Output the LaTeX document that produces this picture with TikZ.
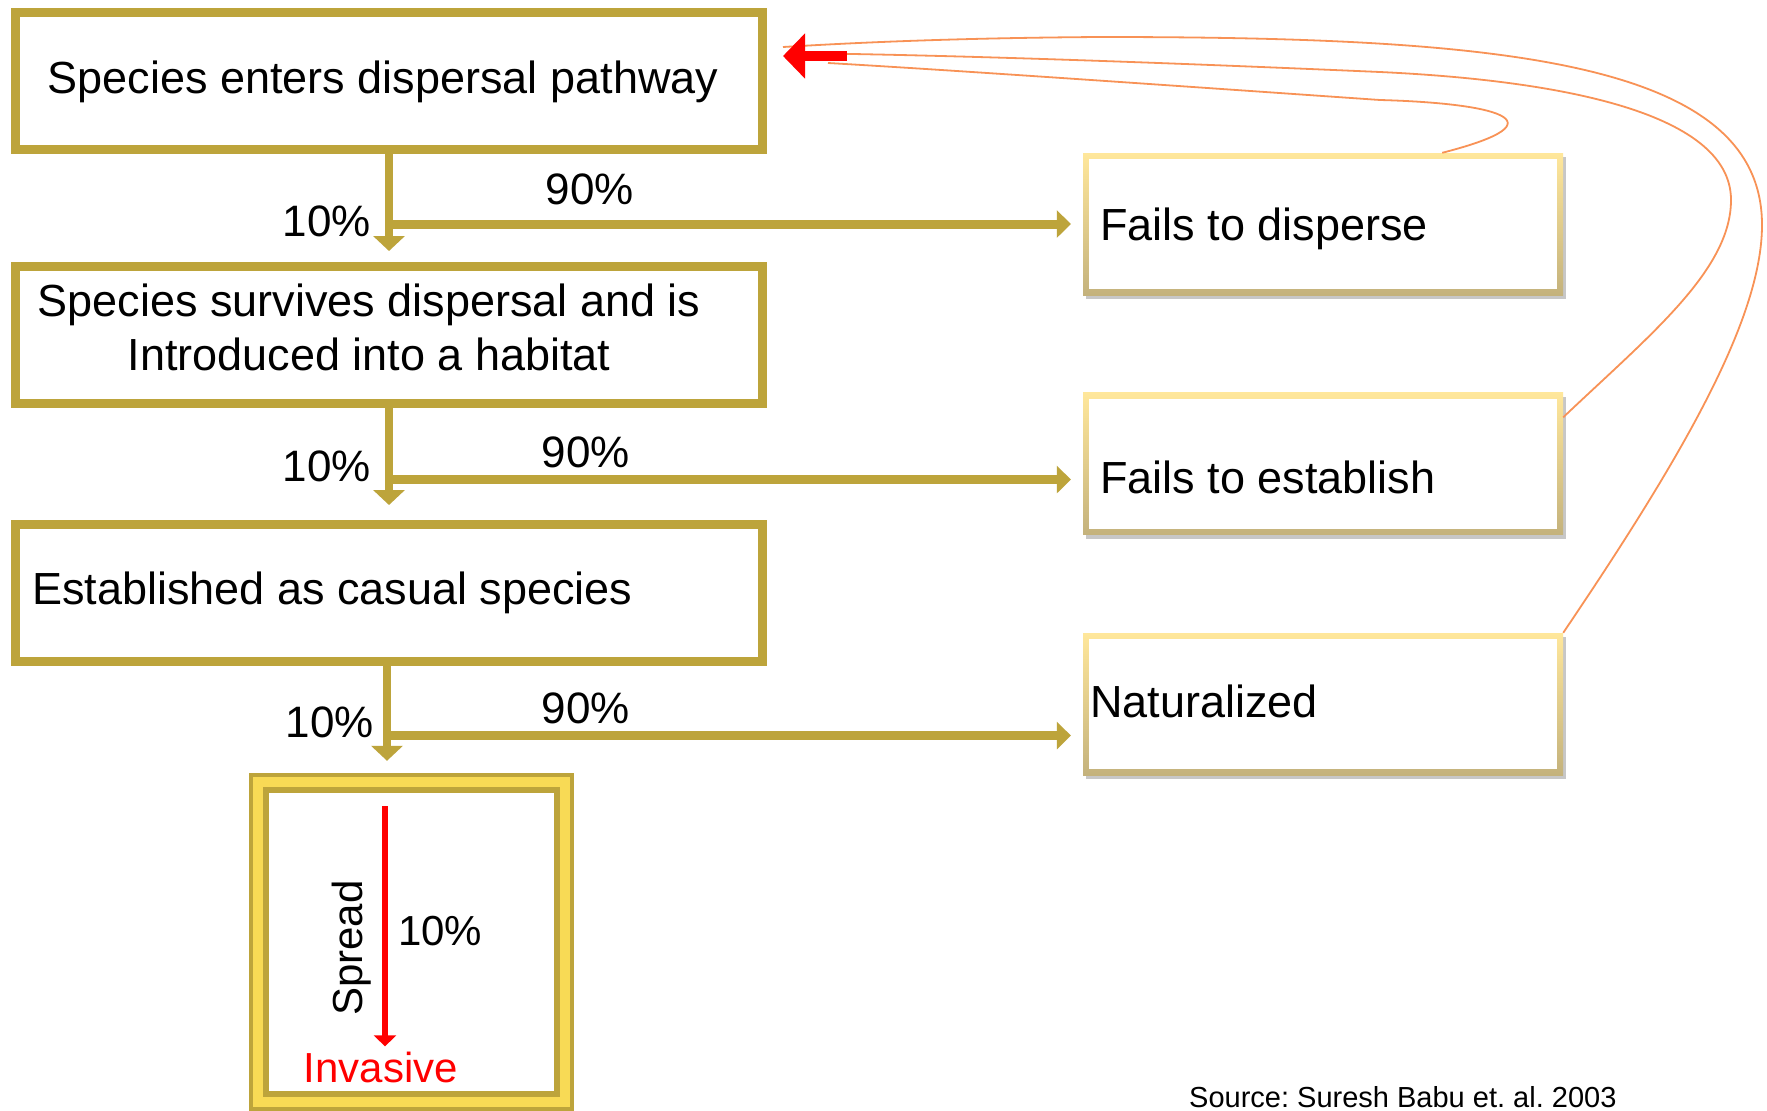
\documentclass[tikz,border=0pt]{standalone}
\usepackage{fontspec}
\setmainfont{Liberation Sans}
\usetikzlibrary{arrows.meta,shadows}
\definecolor{gold}{RGB}{189,164,59}
\definecolor{invyellow}{RGB}{248,218,85}
\definecolor{sidetop}{RGB}{255,231,155}
\definecolor{sidebot}{RGB}{196,178,124}
\definecolor{backorange}{RGB}{248,146,86}
\frenchspacing
\begin{document}
\begin{tikzpicture}[x=1pt,y=-1pt,
  goldbox/.style={draw=gold, line width=9pt, fill=white, minimum width=747pt, minimum height=137pt, inner sep=0pt},
  sidebox/.style={minimum width=480pt, minimum height=142pt, inner sep=0pt, top color=sidetop, bottom color=sidebot,
     drop shadow={shadow xshift=3pt, shadow yshift=-4pt, fill=black, opacity=0.22},
     path picture={\fill[white] ([shift={(6pt,-6pt)}]path picture bounding box.north west) rectangle ([shift={(-6pt,6pt)}]path picture bounding box.south east);}},
  invbox/.style={minimum width=325pt, minimum height=338pt, inner sep=0pt, fill=gold,
     path picture={
       \fill[invyellow] ([shift={(4pt,-4pt)}]path picture bounding box.north west) rectangle ([shift={(-4pt,4pt)}]path picture bounding box.south east);
       \fill[gold] ([shift={(14pt,-14pt)}]path picture bounding box.north west) rectangle ([shift={(-14pt,14pt)}]path picture bounding box.south east);
       \fill[white] ([shift={(20pt,-20pt)}]path picture bounding box.north west) rectangle ([shift={(-20pt,20pt)}]path picture bounding box.south east);}},
  txt/.style={font=\fontsize{45}{54}\selectfont, inner sep=0pt},
  lbl/.style={font=\fontsize{44}{53}\selectfont, inner sep=0pt},
  intxt/.style={font=\fontsize{42}{50}\selectfont, inner sep=0pt},
  varrow/.style={draw=gold, line width=8pt, -{Triangle[width=31pt,length=15pt]}},
  harrow/.style={draw=gold, line width=9pt, -{Triangle[width=27pt,length=14pt]}},
  backline/.style={draw=backorange, line width=1.8pt},
  redarrow/.style={draw=red, line width=6pt, -{Triangle[width=22pt,length=11pt]}}
]
\useasboundingbox[fill=white] (0,0) rectangle (1767,1111);

% main boxes
\node[goldbox] (b1) at (389,80.5) {};
\node[goldbox] (b2) at (389,335) {};
\node[goldbox] (b3) at (389,593) {};

% side boxes
\node[sidebox] (fd) at (1323,224) {};
\node[sidebox] (fe) at (1323,463.5) {};
\node[sidebox] (nat) at (1323,704) {};

% invasive box
\node[invbox] (inv) at (411.5,942) {};

% gold connectors
\draw[varrow, shorten >=11pt] (b1.south) -- (b2.north);
\draw[harrow, shorten >=12pt] (b1.south |- fd.west) -- (fd.west);
\draw[varrow, shorten >=15pt] (b2.south) -- (b3.north);
\coordinate (j2) at (389,479.5);
\draw[harrow, shorten >=12pt] (j2) -- (j2 -| fe.west);
\coordinate (b3s) at (387,666);
\draw[varrow, shorten >=12pt] (b3s) -- (b3s |- inv.north);
\coordinate (j3) at (387,735.5);
\draw[harrow, shorten >=12pt] (j3) -- (j3 -| nat.west);

% feedback curves
\coordinate (rA) at (828,63);
\coordinate (rB) at (790,53);
\coordinate (rC) at (783,47);
\coordinate (cA) at ([xshift=-121pt]fd.north east);
\coordinate (cB) at ([yshift=-25pt]fe.north east);
\coordinate (cC) at (nat.north east);
\draw[backline] (cA) .. controls (1570,120) and (1490,103) .. (1380,100)
   .. controls (1150,84) and (950,70) .. (rA);
\draw[backline] (cB) .. controls (1650,335) and (1731,270) .. (1731,200)
   .. controls (1731,110) and (1550,80) .. (1380,72)
   .. controls (1150,62) and (950,55) .. (rB);
\draw[backline] (cC) .. controls (1680,460) and (1762,320) .. (1762,225)
   .. controls (1762,60) and (1500,37) .. (1100,37)
   .. controls (950,38) and (850,43) .. (rC);

% red return arrow
\coordinate (raS) at (847,56);
\coordinate (raT) at (783,56);
\draw[draw=red, line width=10pt, -{Triangle[width=44pt,length=22pt]}] (raS) -- (raT);

% texts
\node[txt, anchor=base] (t1) at (383,93) {Species enters dispersal pathway};
\node[txt, anchor=north, align=center] (t2) at (369,284) {Species survives dispersal and is\\Introduced into a habitat};
\node[txt, anchor=base west] (t3) at (32,604) {Established as casual species};
\node[txt, anchor=base west] (fdT) at (1100,240) {Fails to disperse};
\node[txt, anchor=base west] (feT) at (1100,493) {Fails to establish};
\node[txt, anchor=base west] (natT) at (1090,717) {Naturalized};

\node[lbl, anchor=base east] (p10a) at (371,236) {10\%};
\node[lbl, anchor=base] (p90a) at (590,204) {90\%};
\node[lbl, anchor=base east] (p10b) at (371,481) {10\%};
\node[lbl, anchor=base] (p90b) at (586,467) {90\%};
\node[lbl, anchor=base east] (p10c) at (374,737) {10\%};
\node[lbl, anchor=base] (p90c) at (586,723) {90\%};

% inside invasive box
\node[intxt, anchor=base, text=red] (invT) at (381,1082) {Invasive};
\coordinate (s1) at (385,806);
\draw[redarrow, shorten >=5pt] (s1) -- (s1 |- invT.north);
\node[intxt, rotate=90] (spT) at (352,948) {Spread};
\node[intxt, anchor=base west] (in10) at (398,945) {10\%};

\node[font=\fontsize{29}{35}\selectfont, inner sep=0pt, anchor=base west] (src) at (1189,1107) {Source: Suresh Babu et. al. 2003};
\end{tikzpicture}
\end{document}
